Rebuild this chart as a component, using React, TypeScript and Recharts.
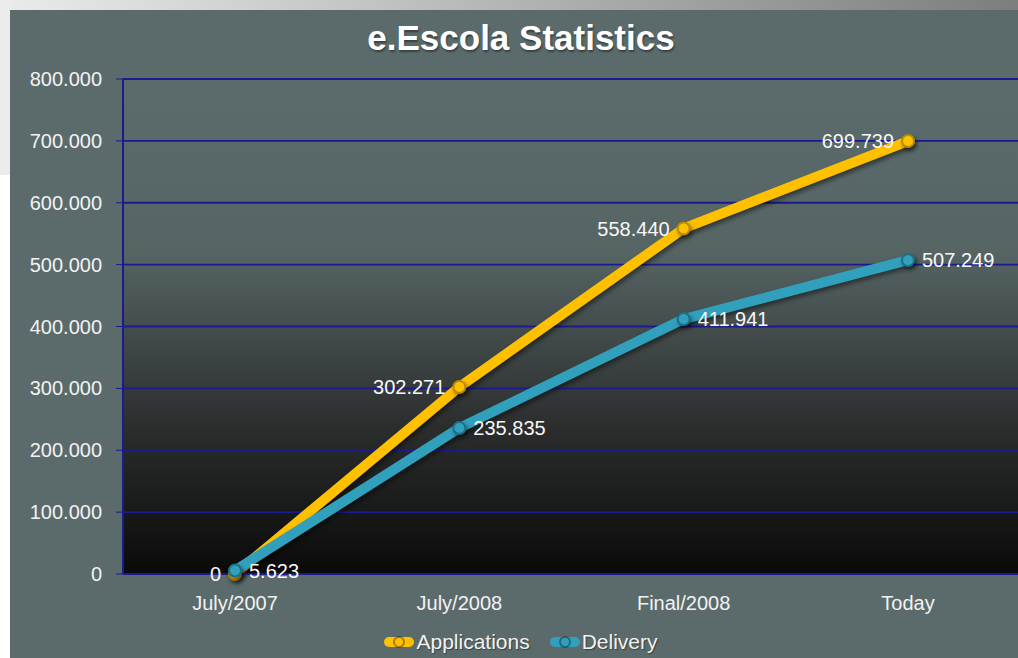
import React from 'react';
import { LineChart, Line, XAxis, YAxis, CartesianGrid, Legend, LabelList } from 'recharts';

const categories = ['July/2007', 'July/2008', 'Final/2008', 'Today'];
const applications = [0, 302271, 558440, 699739];
const delivery = [5623, 235835, 411941, 507249];
const yTicks = [0, 100000, 200000, 300000, 400000, 500000, 600000, 700000, 800000];

const data = categories.map((name, i) => ({
    name,
    Applications: applications[i],
    Delivery: delivery[i],
}));

const FONT = '"Liberation Sans", Arial, sans-serif';
const GOLD = '#ffc000';
const TEAL = '#31a0bc';
const GRID = '#1a1a92';

// 800000 -> "800.000"
const fmt = (v: number) => String(Math.round(v)).replace(/\B(?=(\d{3})+(?!\d))/g, '.');

const renderLegend = (props: any) => {
    const items = props.payload || [];
    return (
        <div style={{ display: 'flex', justifyContent: 'center', gap: 20, paddingLeft: 12, fontFamily: FONT, fontSize: 21, color: '#f2f2f2' }}>
            {items.map((entry: any) => (
                <span key={entry.value} style={{ display: 'flex', alignItems: 'center' }}>
                    <svg width={30} height={18} style={{ marginRight: 2 }}>
                        <line x1={5} y1={9} x2={25} y2={9} stroke={entry.color} strokeWidth={10} strokeLinecap="round" />
                        <circle cx={15} cy={9} r={5} fill={entry.color} stroke="rgba(0,0,0,0.35)" strokeWidth={2} />
                    </svg>
                    <span style={{ textShadow: '1px 1px 1px rgba(0,0,0,0.4)' }}>{entry.value}</span>
                </span>
            ))}
        </div>
    );
};

export default function App() {
    return (
        <div style={{ position: 'fixed', left: 0, top: 0, width: 1018, height: 658, overflow: 'hidden', background: '#ffffff' }}>
            <div style={{ position: 'absolute', left: 0, top: 0, width: 1018, height: 10, background: 'linear-gradient(to right, #ebebeb, #7d7d7d)' }} />
            <div style={{ position: 'absolute', left: 0, top: 0, width: 10, height: 175, background: '#ebebeb' }} />
            <div style={{ position: 'absolute', left: 10, top: 10, width: 1040, height: 660, background: '#5b6b6b' }}>
                <div style={{ position: 'absolute', left: 0, top: 8, width: 1022, textAlign: 'center', fontFamily: FONT, fontWeight: 'bold', fontSize: 35, color: '#ffffff', textShadow: '1px 2px 2px rgba(0,0,0,0.4)' }}>
                    e.Escola Statistics
                </div>
                <LineChart width={1030} height={648} data={data} margin={{ top: 69, right: 20, left: 0, bottom: 4 }}>
                    <defs>
                        <linearGradient id="plotBg" x1="0" y1="0" x2="0" y2="1">
                            <stop offset="0%" stopColor="#5b6b6b" />
                            <stop offset="35%" stopColor="#566464" />
                            <stop offset="70%" stopColor="#2c2e2e" />
                            <stop offset="100%" stopColor="#0a0a0a" />
                        </linearGradient>
                    </defs>
                    <CartesianGrid vertical={false} stroke={GRID} strokeWidth={1.8} fill="url(#plotBg)" fillOpacity={1} />
                    <XAxis
                        dataKey="name"
                        padding={{ left: 112, right: 112 }}
                        axisLine={{ stroke: GRID, strokeWidth: 2 }}
                        tickLine={false}
                        tickSize={0}
                        tickMargin={22}
                        height={56}
                        tick={{ fill: '#f2f2f2', fontSize: 20, fontFamily: FONT }}
                    />
                    <YAxis
                        domain={[0, 800000]}
                        ticks={yTicks}
                        tickFormatter={fmt}
                        width={113}
                        axisLine={{ stroke: GRID, strokeWidth: 2 }}
                        tickLine={{ stroke: GRID }}
                        tickSize={7}
                        tickMargin={14}
                        tick={{ fill: '#f2f2f2', fontSize: 20, fontFamily: FONT }}
                    />
                    <Legend verticalAlign="bottom" align="center" content={renderLegend} />
                    <Line
                        dataKey="Applications"
                        stroke={GOLD}
                        strokeWidth={10}
                        strokeLinejoin="round"
                        strokeLinecap="round"
                        dot={{ r: 6, fill: GOLD, stroke: '#b98c00', strokeWidth: 2 }}
                        style={{ filter: 'drop-shadow(2px 3px 2px rgba(0,0,0,0.45))' }}
                        isAnimationActive={false}
                    >
                        <LabelList dataKey="Applications" position="left" offset={14} formatter={(v: any) => fmt(Number(v))} fill="#f8f8f8" fontSize={20} fontFamily={FONT} />
                    </Line>
                    <Line
                        dataKey="Delivery"
                        stroke={TEAL}
                        strokeWidth={10}
                        strokeLinejoin="round"
                        strokeLinecap="round"
                        dot={{ r: 6, fill: TEAL, stroke: '#1d6f86', strokeWidth: 2 }}
                        style={{ filter: 'drop-shadow(2px 3px 2px rgba(0,0,0,0.45))' }}
                        isAnimationActive={false}
                    >
                        <LabelList dataKey="Delivery" position="right" offset={14} formatter={(v: any) => fmt(Number(v))} fill="#f8f8f8" fontSize={20} fontFamily={FONT} />
                    </Line>
                </LineChart>
            </div>
        </div>
    );
}
